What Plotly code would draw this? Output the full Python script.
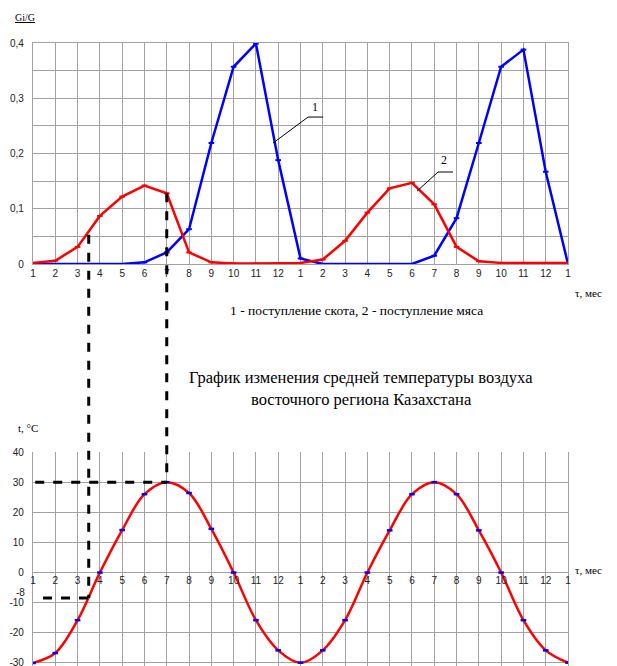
import plotly.graph_objects as go

# ---------------- data ----------------
month_labels = ["1", "2", "3", "4", "5", "6", "7", "8", "9", "10", "11", "12",
                "1", "2", "3", "4", "5", "6", "7", "8", "9", "10", "11", "12", "1"]
x_idx = list(range(len(month_labels)))

cattle_supply = [0, 0, 0, 0, 0, 0.003, 0.021, 0.063, 0.219, 0.357, 0.399, 0.188, 0.010,
                 0, 0, 0, 0, 0, 0.015, 0.083, 0.219, 0.357, 0.388, 0.167, 0]
meat_supply = [0.002, 0.006, 0.031, 0.087, 0.122, 0.142, 0.128, 0.021, 0.003, 0.001, 0.001, 0.001, 0.002,
               0.008, 0.042, 0.093, 0.137, 0.147, 0.108, 0.031, 0.005, 0.002, 0.002, 0.002, 0.002]
temperature = [-30, -26.7, -15.8, 0, 14.1, 26.0, 30.0, 26.4, 14.5, 0, -15.8, -25.8, -29.9,
               -25.8, -15.8, 0, 14.0, 26.0, 30.0, 26.0, 14.0, 0, -15.8, -25.8, -29.9]

top_tickvals = [0, 0.1, 0.2, 0.3, 0.4]
top_ticktext = ["0", "0,1", "0,2", "0,3", "0,4"]
bot_tickvals = [-30, -20, -10, 0, 10, 20, 30, 40]
bot_ticktext = ["-30", "-20", "-10", "0", "10", "20", "30", "40"]
extra_tick_val = -8
extra_tick_text = "-8"

# ---------------- layout geometry ----------------
OFF = 8                      # page body margin of the html page
W, H = 617 - OFF, 666 - OFF
ML, MT, MB = 33 - OFF, 43 - OFF, 0
MR = W - (568 - OFF)
PH = H - MT - MB
PW = W - ML - MR
top_dom = [(H - (264 - OFF)) / PH, 1.0]
bot_dom = [0.0, (H - (452 - OFF)) / PH]
top_rng = [0, 0.4]
bot_rng = [-31, 40]
x_rng = [0, 24]


def py(yv, dom, rng):
    return dom[0] + (yv - rng[0]) / (rng[1] - rng[0]) * (dom[1] - dom[0])


def px(p):
    return (p - OFF - ML) / PW


def ppy(p):
    return (H - MB - (p - OFF)) / PH


GRID = "#a2a2a2"
TICKFONT = dict(family="Liberation Sans, Arial", size=10, color="#222")
SERIF = "Liberation Serif, Times New Roman"

fig = go.Figure()

fig.add_trace(go.Scatter(x=x_idx, y=cattle_supply, mode="lines+markers", xaxis="x", yaxis="y",
                         line=dict(color="#0000ff", width=2.5),
                         marker=dict(color="#0000ff", symbol="line-ew", size=4,
                                     line=dict(width=2, color="#0000ff")),
                         showlegend=False))
fig.add_trace(go.Scatter(x=x_idx, y=meat_supply, mode="lines+markers", xaxis="x", yaxis="y",
                         line=dict(color="#ff0000", width=2.5),
                         marker=dict(color="#ff0000", symbol="line-ew", size=4,
                                     line=dict(width=2, color="#ff0000")),
                         showlegend=False))

fig.add_trace(go.Scatter(x=x_idx, y=temperature, mode="lines", xaxis="x2", yaxis="y2",
                         line=dict(color="#ff0000", width=2.5, shape="spline", smoothing=1.0),
                         showlegend=False))
fig.add_trace(go.Scatter(x=x_idx, y=temperature, mode="markers", xaxis="x2", yaxis="y2",
                         marker=dict(color="#0000ff", symbol="line-ew", size=4,
                                     line=dict(width=2.5, color="#0000ff")),
                         showlegend=False))

xcommon = dict(range=x_rng, domain=[0, 1], tickmode="array", tickvals=x_idx, ticktext=month_labels,
               showgrid=True, gridcolor=GRID, gridwidth=1.3, zeroline=False, tickfont=TICKFONT,
               ticks="")

fig.update_layout(
    width=W, height=H, margin=dict(l=ML, r=MR, t=MT, b=MB, autoexpand=False),
    paper_bgcolor="white", plot_bgcolor="white",
    xaxis=dict(anchor="y", showline=True, linecolor=GRID, linewidth=1.3, mirror=True, **xcommon),
    yaxis=dict(anchor="x", domain=top_dom, range=top_rng, tickmode="array", tickvals=top_tickvals,
               ticktext=top_ticktext, showgrid=False, zeroline=False, tickfont=TICKFONT,
               ticks="outside", ticklen=6, tickcolor="rgba(0,0,0,0)",
               showline=True, linecolor=GRID, linewidth=1.3, mirror=True,
               minor=dict(dtick=0.05, tick0=0, showgrid=True, gridcolor=GRID, gridwidth=1.3)),
    xaxis2=dict(anchor="free", position=py(0, bot_dom, bot_rng), showline=False, **xcommon),
    yaxis2=dict(anchor="x2", domain=bot_dom, range=bot_rng, tickmode="array", tickvals=bot_tickvals,
                ticktext=bot_ticktext, showgrid=False, zeroline=False, tickfont=TICKFONT,
                ticks="outside", ticklen=6, tickcolor="rgba(0,0,0,0)", ticklabeloverflow="allow",
                showline=True, linecolor=GRID, linewidth=1.3, mirror=True,
                minor=dict(dtick=10, tick0=-30, showgrid=True, gridcolor=GRID, gridwidth=1.3)),
)

# dashed projection lines
dash = dict(color="black", width=3, dash="dash")
shapes = [
    dict(type="line", xref="x", yref="paper", x0=2.5, x1=2.5,
         y0=py(0.053, top_dom, top_rng), y1=py(-8.4, bot_dom, bot_rng), line=dash),
    dict(type="line", xref="x", yref="paper", x0=6, x1=6,
         y0=py(0.128, top_dom, top_rng), y1=py(30, bot_dom, bot_rng), line=dash),
    dict(type="line", xref="x2", yref="y2", x0=0.45, x1=2.5, y0=-8.4, y1=-8.4, line=dash),
    dict(type="line", xref="x2", yref="y2", x0=0.1, x1=6, y0=30, y1=30, line=dash),
    # leader lines for curve labels
    dict(type="line", xref="x", yref="y", x0=10.77, y0=0.219, x1=12.34, y1=0.266,
         line=dict(color="black", width=1)),
    dict(type="line", xref="x", yref="y", x0=12.34, y0=0.266, x1=13.01, y1=0.266,
         line=dict(color="black", width=1)),
    dict(type="line", xref="x", yref="y", x0=17.23, y0=0.132, x1=18.17, y1=0.1665,
         line=dict(color="black", width=1)),
    dict(type="line", xref="x", yref="y", x0=18.17, y0=0.1665, x1=18.84, y1=0.1665,
         line=dict(color="black", width=1)),
]
fig.update_layout(shapes=shapes)

ann = [
    dict(text="1", x=12.65, y=0.284, xref="x", yref="y", font=dict(family=SERIF, size=12, color="black")),
    dict(text="2", x=18.44, y=0.188, xref="x", yref="y", font=dict(family=SERIF, size=12, color="black")),
    dict(text="<u>Gi/G</u>", x=px(25), y=ppy(18), xref="paper", yref="paper",
         font=dict(family=SERIF, size=10, color="black")),
    dict(text="τ, мес", x=px(588), y=ppy(293), xref="paper", yref="paper",
         font=dict(family=SERIF, size=11, color="black")),
    dict(text="1 - поступление скота, 2 - поступление мяса", x=px(356), y=ppy(310),
         xref="paper", yref="paper", font=dict(family=SERIF, size=13.5, color="black")),
    dict(text="График изменения средней температуры воздуха", x=px(361), y=ppy(377),
         xref="paper", yref="paper", font=dict(family=SERIF, size=16.5, color="black")),
    dict(text="восточного региона Казахстана", x=px(361), y=ppy(399),
         xref="paper", yref="paper", font=dict(family=SERIF, size=16.5, color="black")),
    dict(text="t, °C", x=px(28), y=ppy(428), xref="paper", yref="paper",
         font=dict(family=SERIF, size=11, color="black")),
    dict(text="τ, мес", x=px(588), y=ppy(570), xref="paper", yref="paper",
         font=dict(family=SERIF, size=11, color="black")),
]
for a in ann:
    a.update(showarrow=False, xanchor="center", yanchor="middle")
# extra "-8" tick label on the temperature axis (slightly raised, as in the original)
ann.append(dict(text=extra_tick_text, x=px(33 - 6), y=extra_tick_val, xref="paper", yref="y2",
                showarrow=False, xanchor="right", yanchor="middle", yshift=4,
                font=TICKFONT))
fig.update_layout(annotations=ann)

fig.write_html("out.html")
